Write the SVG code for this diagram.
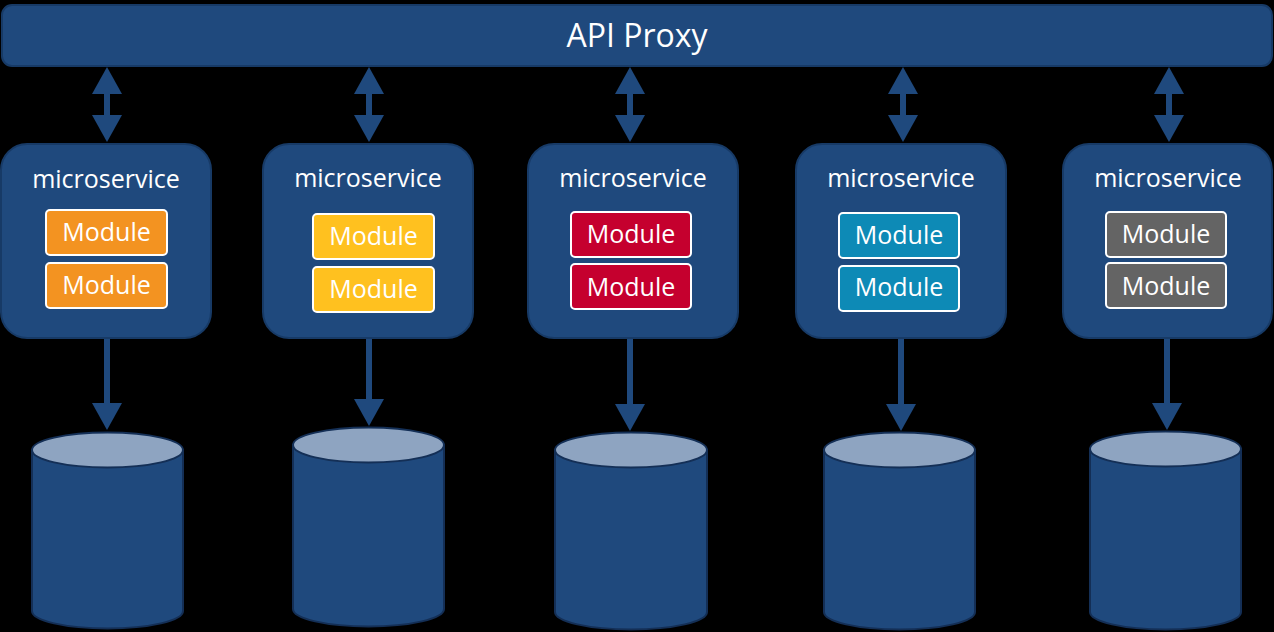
<svg xmlns="http://www.w3.org/2000/svg" width="1274" height="632" viewBox="0 0 1274 632">
  <style>
    .bg { fill: #000000; }
    .navy { fill: #1F497D; stroke: #173A66; stroke-width: 2; }
    .ms { font-family: "Open Sans", "Noto Sans", sans-serif; font-size: 25px; fill: #FFFFFF; text-anchor: middle; }
    .title { font-family: "Open Sans", "Noto Sans", sans-serif; font-size: 32px; fill: #FFFFFF; text-anchor: middle; }
    .mod { stroke: #FFFFFF; stroke-width: 2; }
    .modt { font-family: "Open Sans", "Noto Sans", sans-serif; font-size: 25px; fill: #FFFFFF; text-anchor: middle; }
    .orange { fill: #F39321; }
    .yellow { fill: #FFC11F; }
    .red { fill: #C5002E; }
    .teal { fill: #0D8AB6; }
    .grey { fill: #646464; }
    .conn { stroke: #1F497D; stroke-width: 6; fill: none; }
    .cylbody { fill: #1F497D; stroke: #142F56; stroke-width: 2; }
    .cyltop { fill: #8EA4C1; stroke: #142F56; stroke-width: 2; }
  </style>
  <defs>
    <marker id="ah" viewBox="0 0 27 30" refX="0" refY="15" markerWidth="27" markerHeight="30" markerUnits="userSpaceOnUse" orient="auto-start-reverse">
      <path d="M0,0 L27,15 L0,30 Z" fill="#1F497D"/>
    </marker>
  </defs>
  <rect class="bg" x="0" y="0" width="1274" height="632"/>

  <g id="api-proxy">
    <rect class="navy" x="2" y="5" width="1270" height="61" rx="10" ry="10"/>
    <text class="title" x="637" y="47">API Proxy</text>
  </g>

  <g id="connectors">
    <line class="conn" x1="107" y1="94" x2="107" y2="115" marker-start="url(#ah)" marker-end="url(#ah)"/>
    <line class="conn" x1="369" y1="94" x2="369" y2="115" marker-start="url(#ah)" marker-end="url(#ah)"/>
    <line class="conn" x1="630" y1="94" x2="630" y2="115" marker-start="url(#ah)" marker-end="url(#ah)"/>
    <line class="conn" x1="903" y1="94" x2="903" y2="115" marker-start="url(#ah)" marker-end="url(#ah)"/>
    <line class="conn" x1="1169" y1="94" x2="1169" y2="115" marker-start="url(#ah)" marker-end="url(#ah)"/>
    <line class="conn" x1="107" y1="338" x2="107" y2="403" marker-end="url(#ah)"/>
    <line class="conn" x1="369" y1="338" x2="369" y2="399" marker-end="url(#ah)"/>
    <line class="conn" x1="630" y1="338" x2="630" y2="404" marker-end="url(#ah)"/>
    <line class="conn" x1="901" y1="338" x2="901" y2="404" marker-end="url(#ah)"/>
    <line class="conn" x1="1167" y1="338" x2="1167" y2="403" marker-end="url(#ah)"/>
  </g>

  <g id="ms1">
    <rect class="navy" x="1" y="144" width="210" height="194" rx="26" ry="26"/>
    <text class="ms" x="106" y="188">microservice</text>
    <rect class="mod orange" x="46" y="210" width="121" height="45" rx="4"/>
    <text class="modt" x="106.5" y="241">Module</text>
    <rect class="mod orange" x="46" y="263" width="121" height="45" rx="4"/>
    <text class="modt" x="106.5" y="294">Module</text>
  </g>

  <g id="ms2">
    <rect class="navy" x="263" y="144" width="210" height="194" rx="26" ry="26"/>
    <text class="ms" x="368" y="187">microservice</text>
    <rect class="mod yellow" x="313" y="214" width="121" height="45" rx="4"/>
    <text class="modt" x="373.5" y="245">Module</text>
    <rect class="mod yellow" x="313" y="267" width="121" height="45" rx="4"/>
    <text class="modt" x="373.5" y="298">Module</text>
  </g>

  <g id="ms3">
    <rect class="navy" x="528" y="144" width="210" height="194" rx="26" ry="26"/>
    <text class="ms" x="633" y="187">microservice</text>
    <rect class="mod red" x="571" y="212" width="120" height="45" rx="4"/>
    <text class="modt" x="631" y="243">Module</text>
    <rect class="mod red" x="571" y="264" width="120" height="45" rx="4"/>
    <text class="modt" x="631" y="296">Module</text>
  </g>

  <g id="ms4">
    <rect class="navy" x="796" y="144" width="210" height="194" rx="26" ry="26"/>
    <text class="ms" x="901" y="187">microservice</text>
    <rect class="mod teal" x="839" y="213" width="120" height="45" rx="4"/>
    <text class="modt" x="899" y="244">Module</text>
    <rect class="mod teal" x="839" y="266" width="120" height="45" rx="4"/>
    <text class="modt" x="899" y="296">Module</text>
  </g>

  <g id="ms5">
    <rect class="navy" x="1063" y="144" width="209" height="194" rx="26" ry="26"/>
    <text class="ms" x="1168" y="187">microservice</text>
    <rect class="mod grey" x="1106" y="212" width="120" height="45" rx="4"/>
    <text class="modt" x="1166" y="243">Module</text>
    <rect class="mod grey" x="1106" y="263" width="120" height="45" rx="4"/>
    <text class="modt" x="1166" y="295">Module</text>
  </g>

  <g id="db1">
    <path class="cylbody" d="M32,450 L32,611 A75.5,17.5 0 0 0 183,611 L183,450 Z"/>
    <ellipse class="cyltop" cx="107.5" cy="450" rx="75.5" ry="17.5"/>
  </g>
  <g id="db2">
    <path class="cylbody" d="M293,445 L293,609 A75.5,17.5 0 0 0 444,609 L444,445 Z"/>
    <ellipse class="cyltop" cx="368.5" cy="445" rx="75.5" ry="17.5"/>
  </g>
  <g id="db3">
    <path class="cylbody" d="M555,450 L555,612 A76,17.5 0 0 0 707,612 L707,450 Z"/>
    <ellipse class="cyltop" cx="631" cy="450" rx="76" ry="17.5"/>
  </g>
  <g id="db4">
    <path class="cylbody" d="M824,450 L824,612 A75.5,17.5 0 0 0 975,612 L975,450 Z"/>
    <ellipse class="cyltop" cx="899.5" cy="450" rx="75.5" ry="17.5"/>
  </g>
  <g id="db5">
    <path class="cylbody" d="M1090,449 L1090,612 A75.5,17.5 0 0 0 1241,612 L1241,449 Z"/>
    <ellipse class="cyltop" cx="1165.5" cy="449" rx="75.5" ry="17.5"/>
  </g>
</svg>
